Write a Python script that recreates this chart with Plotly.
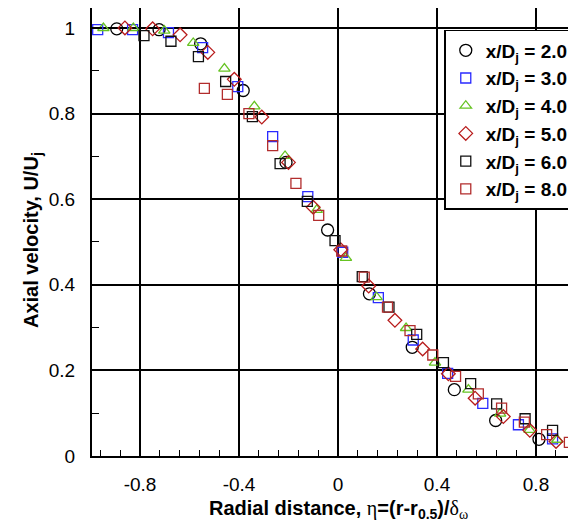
import plotly.graph_objects as go

# ---- data ----
labels = ["2.0", "3.0", "4.0", "5.0", "6.0", "8.0"]

x_20 = [-0.894, -0.723, -0.555, -0.383, -0.21, -0.042, 0.127, 0.300, 0.470, 0.637, 0.812]
y_20 = [0.998, 0.996, 0.963, 0.854, 0.686, 0.528, 0.379, 0.254, 0.155, 0.083, 0.039]

x_30 = [-0.971, -0.830, -0.685, -0.547, -0.405, -0.264, -0.122, 0.019, 0.163, 0.304, 0.443, 0.585, 0.729, 0.867]
y_30 = [0.996, 0.996, 0.989, 0.954, 0.863, 0.746, 0.606, 0.476, 0.370, 0.271, 0.193, 0.123, 0.073, 0.040]

x_40 = [-0.948, -0.827, -0.702, -0.585, -0.459, -0.338, -0.214, -0.086, 0.032, 0.156, 0.275, 0.392, 0.527, 0.655, 0.774, 0.886]
y_40 = [1.000, 1.000, 0.994, 0.965, 0.905, 0.817, 0.701, 0.575, 0.463, 0.371, 0.299, 0.218, 0.155, 0.099, 0.061, 0.038]

x_50 = [-0.861, -0.749, -0.638, -0.526, -0.419, -0.308, -0.200, -0.100, 0.011, 0.124, 0.230, 0.342, 0.446, 0.554, 0.668, 0.775, 0.881]
y_50 = [1.000, 0.998, 0.984, 0.943, 0.880, 0.792, 0.686, 0.581, 0.482, 0.397, 0.317, 0.250, 0.192, 0.135, 0.092, 0.060, 0.034]

x_60 = [-0.784, -0.675, -0.564, -0.454, -0.346, -0.234, -0.124, -0.012, 0.098, 0.206, 0.318, 0.426, 0.536, 0.641, 0.756, 0.867]
y_60 = [0.982, 0.969, 0.933, 0.875, 0.793, 0.683, 0.595, 0.503, 0.419, 0.348, 0.284, 0.218, 0.169, 0.122, 0.087, 0.060]

x_80 = [-0.540, -0.447, -0.360, -0.264, -0.170, -0.078, 0.015, 0.106, 0.200, 0.291, 0.383, 0.475, 0.567, 0.661, 0.753, 0.843, 0.935]
y_80 = [0.859, 0.845, 0.800, 0.725, 0.637, 0.562, 0.479, 0.418, 0.348, 0.293, 0.236, 0.186, 0.145, 0.112, 0.079, 0.050, 0.032]

x_ticks = [-0.8, -0.4, 0, 0.4, 0.8]
x_ticktext = ["-0.8", "-0.4", "0", "0.4", "0.8"]
y_ticks = [0, 0.2, 0.4, 0.6, 0.8, 1.0]
y_ticktext = ["0", "0.2", "0.4", "0.6", "0.8", "1"]

series = [
    (x_20, y_20, "circle-open", "#000000", 12),
    (x_30, y_30, "square-open", "#2a2aff", 10),
    (x_40, y_40, "triangle-up-open", "#66c322", 10),
    (x_50, y_50, "diamond-open", "#b81c1c", 10.5),
    (x_60, y_60, "square-open", "#111111", 10),
    (x_80, y_80, "square-open", "#b22d2d", 10),
]

FONT = "Arial, Liberation Sans, sans-serif"

fig = go.Figure()
for i, ((xs, ys, sym, col, sz), lab) in enumerate(zip(series, labels)):
    fig.add_trace(go.Scatter(
        x=xs, y=ys, mode="markers",
        name=f"x/D<sub>j</sub> = {lab}",
        legendgroup=f"g{i}",
        marker=dict(symbol=sym, size=sz, color=col, line=dict(color=col, width=1.3)),
    ))

fig.update_layout(
    width=576, height=524,
    margin=dict(l=84, r=0, t=0, b=76),
    paper_bgcolor="white", plot_bgcolor="white",
    font=dict(family=FONT, size=19, color="black"),
    showlegend=True,
    legend=dict(
        x=0.716, y=0.951, xanchor="left", yanchor="top",
        bgcolor="white", bordercolor="black", borderwidth=1.5,
        font=dict(family=FONT, size=19, color="black", weight="bold"),
        tracegroupgap=0,
    ),
    xaxis=dict(
        range=[-0.994, 0.994], tickmode="array", tickvals=x_ticks, ticktext=x_ticktext,
        showgrid=True, gridcolor="black", gridwidth=1.5,
        showline=True, linecolor="black", linewidth=2,
        ticks="inside", ticklen=9, tickwidth=1.5, tickcolor="black",
        minor=dict(tickmode="linear", tick0=0, dtick=0.08, ticks="inside", ticklen=6,
                   tickwidth=1.2, tickcolor="black", showgrid=False),
        zeroline=False, ticklabelstandoff=10,
        tickfont=dict(family=FONT, size=19, color="black"),
    ),
    yaxis=dict(
        range=[0, 1.0467], tickmode="array", tickvals=y_ticks, ticktext=y_ticktext,
        showgrid=True, gridcolor="black", gridwidth=1.5,
        showline=True, linecolor="black", linewidth=2,
        ticks="inside", ticklen=9, tickwidth=1.5, tickcolor="black",
        minor=dict(tickmode="linear", tick0=0, dtick=0.1, ticks="inside", ticklen=7,
                   tickwidth=1.2, tickcolor="black", showgrid=False),
        zeroline=False, ticklabelstandoff=11,
        tickfont=dict(family=FONT, size=19, color="black"),
    ),
    annotations=[
        dict(
            text=("<b>Radial distance, </b>"
                  "<span style='font-family:Liberation Serif'>η</span>"
                  "<b>=(r-r<sub>0.5</sub>)/</b>"
                  "<span style='font-family:Liberation Serif'>δ<sub>ω</sub></span>"),
            xref="x", yref="paper", x=0, y=-0.1205, xanchor="center", yanchor="middle",
            showarrow=False, font=dict(family=FONT, size=20, color="black"),
        ),
        dict(
            text="<b>Axial velocity, U/U<sub>j</sub></b>",
            xref="paper", yref="paper", x=-0.122, y=0.482, xanchor="center", yanchor="middle",
            textangle=-90, showarrow=False, font=dict(family=FONT, size=20, color="black"),
        ),
    ],
)

fig.write_html("out.html")
